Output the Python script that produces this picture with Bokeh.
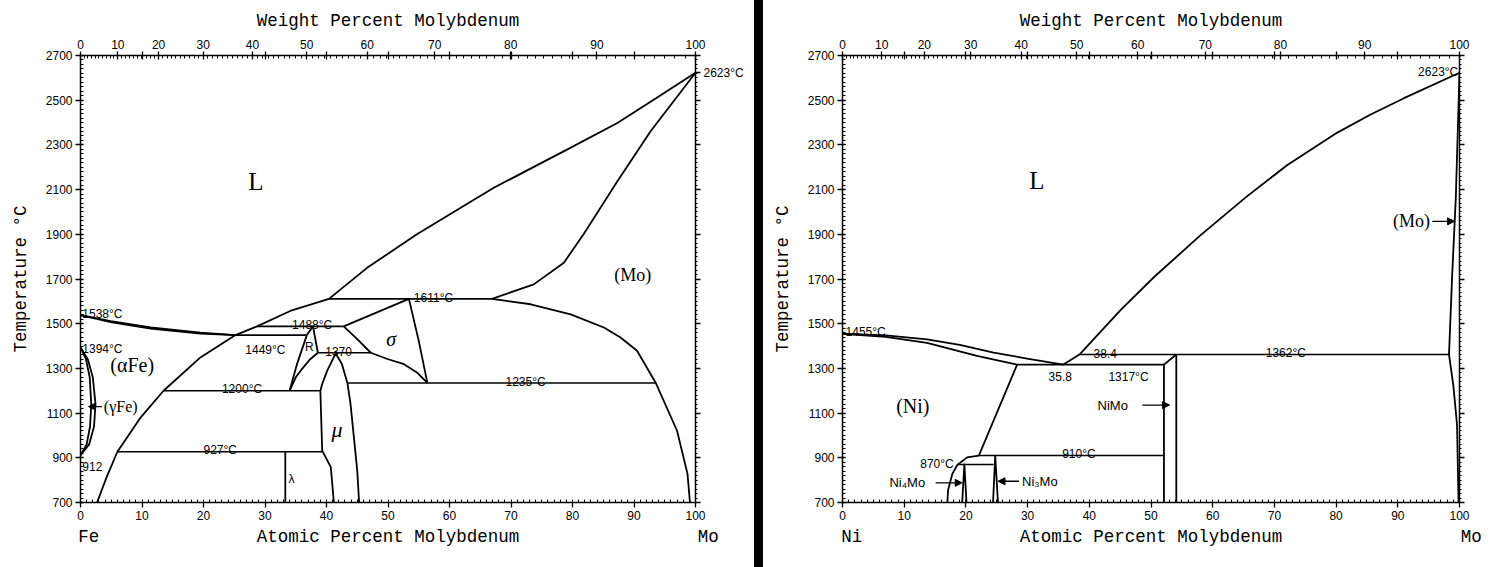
from bokeh.plotting import figure
from bokeh.models import (Range1d, LinearAxis, FixedTicker, Label, Arrow,
                          NormalHead, Spacer)
from bokeh.layouts import row
from bokeh.embed import file_html
from bokeh.resources import INLINE

# ---------------- axis data ----------------
M_FE, M_NI, M_MO = 55.845, 58.693, 95.95
temp_ticks = [700, 900, 1100, 1300, 1500, 1700, 1900, 2100, 2300, 2500, 2700]
at_ticks = [0, 10, 20, 30, 40, 50, 60, 70, 80, 90, 100]
wt_labels = [0, 10, 20, 30, 40, 50, 60, 70, 80, 90, 100]
mo_melting = 2623

# ---------------- Fe-Mo boundaries (at.% Mo, deg C) ----------------
femo_liq_fe_x = [0, 4.9, 11.4, 19.5, 25.2]
femo_liq_fe_t = [1538, 1512, 1483, 1460, 1449]
femo_sol_fe_x = [0, 4.9, 11.4, 19.5, 25.2]
femo_sol_fe_t = [1538, 1507, 1478, 1456, 1449]
femo_gamma_out_x = [0, 1.2, 2.0, 2.44, 2.2, 1.4, 0]
femo_gamma_out_t = [1394, 1340, 1260, 1140, 1040, 960, 912]
femo_gamma_in_x = [0, 0.9, 1.5, 1.75, 1.55, 1.0, 0]
femo_gamma_in_t = [1394, 1340, 1260, 1140, 1040, 960, 912]
femo_bcc_left_x = [2.7, 4.2, 6.0, 9.8, 13.5, 19.5, 25.2, 28.7, 34.1, 40.4]
femo_bcc_left_t = [700, 810, 927, 1081, 1200, 1349, 1449, 1488, 1557, 1611]
femo_bcc_right_x = [66.9, 73.2, 79.7, 85.1, 87.8, 90.5, 93.5, 97.0, 98.7, 99.1]
femo_bcc_right_t = [1611, 1587, 1542, 1483, 1438, 1379, 1237, 1021, 828, 700]
femo_liq_mo_x = [40.4, 46.6, 54.7, 67.2, 79.1, 87.3, 93.2, 100]
femo_liq_mo_t = [1611, 1750, 1900, 2108, 2279, 2398, 2502, 2623]
femo_sol_mo_x = [66.9, 73.7, 78.6, 81.8, 87.3, 92.7, 100]
femo_sol_mo_t = [1611, 1676, 1773, 1900, 2137, 2361, 2623]
femo_r_left_x = [37.8, 36.8, 35.2, 34.0]
femo_r_left_t = [1488, 1449, 1319, 1200]
femo_r_right_x = [37.8, 38.6]
femo_r_right_t = [1488, 1370]
femo_r_low_x = [34.0, 35.0, 36.0, 37.3, 38.6]
femo_r_low_t = [1200, 1260, 1297, 1340, 1370]
femo_bccr_x = [42.8, 45.0, 47.2]
femo_bccr_t = [1488, 1431, 1370]
femo_sig_ul_x = [42.8, 53.4]
femo_sig_ul_t = [1488, 1611]
femo_sig_r_x = [53.4, 55.0, 56.4]
femo_sig_r_t = [1611, 1423, 1235]
femo_sig_ll_x = [47.2, 49.9, 52.6, 54.7, 56.4]
femo_sig_ll_t = [1370, 1342, 1319, 1282, 1235]
femo_mu_left_x = [41.5, 40.1, 39.3, 39.0, 39.3, 40.7, 41.2]
femo_mu_left_t = [1367, 1289, 1230, 1200, 932, 858, 700]
femo_mu_right_x = [41.5, 42.5, 43.4, 43.9, 45.0, 45.3]
femo_mu_right_t = [1367, 1320, 1235, 1142, 843, 700]
femo_lambda_x = [33.3, 33.3]
femo_lambda_t = [927, 700]
femo_iso_t = [1611, 1488, 1449, 1370, 1235, 1200, 927]
femo_iso_x0 = [40.4, 28.7, 25.2, 38.6, 43.4, 13.5, 6.0]
femo_iso_x1 = [66.9, 42.8, 36.7, 47.2, 93.5, 39.0, 39.3]

# ---------------- Ni-Mo boundaries ----------------
nimo_liq_ni_x = [0, 7, 13.7, 19, 24.5, 29.9, 35.8]
nimo_liq_ni_t = [1455, 1448, 1430, 1405, 1371, 1344, 1317]
nimo_sol_ni_x = [0, 7, 13.7, 21.8, 28.3]
nimo_sol_ni_t = [1455, 1441, 1414, 1356, 1317]
nimo_solv_x = [28.3, 22.1, 20.2, 18.6, 17.8, 17.1, 17.0]
nimo_solv_t = [1317, 910, 902, 868, 828, 754, 700]
nimo_liq_mo_x = [35.8, 38.4, 45.1, 50.5, 58.0, 65.3, 72.1, 80.2, 85.6, 91.0, 100]
nimo_liq_mo_t = [1317, 1362, 1562, 1709, 1895, 2064, 2210, 2355, 2436, 2509, 2623]
nimo_mo_x = [100, 99.4, 98.8, 98.3, 99.0, 99.6, 99.85]
nimo_mo_t = [2623, 2061, 1709, 1362, 1224, 1048, 700]
nimo_nimo_l_x = [52.1, 52.1]
nimo_nimo_l_t = [1317, 700]
nimo_nimo_r_x = [54.1, 54.1]
nimo_nimo_r_t = [1362, 700]
nimo_nimo_top_x = [52.1, 54.1]
nimo_nimo_top_t = [1317, 1362]
nimo_ni4mo_x = [19.4, 19.75, 20.1]
nimo_ni4mo_t = [700, 870, 700]
nimo_ni3mo_x = [24.4, 24.75, 25.2]
nimo_ni3mo_t = [700, 910, 700]
nimo_iso_t = [1317, 1362, 910, 870]
nimo_iso_x0 = [28.3, 38.4, 22.1, 18.6]
nimo_iso_x1 = [52.1, 98.3, 52.1, 24.5]

NUM = ("Liberation Sans", "12px", "normal")
SER = ("Liberation Serif", "20px", "normal")

femo_texts = [
    (28.5, 2138, "L", ("Liberation Serif", "25px", "normal"), "center", "middle"),
    (89.8, 1720, "(Mo)", ("Liberation Serif", "18px", "normal"), "center", "middle"),
    (8.4, 1314, "(\u03b1Fe)", SER, "center", "middle"),
    (3.8, 1129, "(\u03b3Fe)", ("Liberation Serif", "16px", "normal"), "left", "middle"),
    (50.5, 1431, "\u03c3", ("Liberation Serif", "20px", "italic"), "center", "middle"),
    (41.7, 1028, "\u03bc", ("Liberation Serif", "22px", "italic"), "center", "middle"),
    (34.3, 803, "\u03bb", ("Liberation Sans", "12px", "normal"), "center", "middle"),
    (37.2, 1394, "R", ("Liberation Sans", "12px", "normal"), "center", "middle"),
    (0.3, 1543, "1538\u00b0C", NUM, "left", "alphabetic"),
    (0.3, 1387, "1394\u00b0C", NUM, "left", "alphabetic"),
    (0.3, 861, "912", NUM, "left", "alphabetic"),
    (26.8, 1383, "1449\u00b0C", NUM, "left", "alphabetic"),
    (34.4, 1492, "1488\u00b0C", NUM, "left", "alphabetic"),
    (39.8, 1375, "1370", NUM, "left", "alphabetic"),
    (54.2, 1616, "1611\u00b0C", NUM, "left", "alphabetic"),
    (23.0, 1206, "1200\u00b0C", NUM, "left", "alphabetic"),
    (20.0, 933, "927\u00b0C", NUM, "left", "alphabetic"),
    (69.1, 1241, "1235\u00b0C", NUM, "left", "alphabetic"),
]
femo_arrows = [(3.5, 1129, 1.3, 1129)]

nimo_texts = [
    (31.5, 2142, "L", ("Liberation Serif", "25px", "normal"), "center", "middle"),
    (11.4, 1132, "(Ni)", ("Liberation Serif", "20px", "normal"), "center", "middle"),
    (95.2, 1958, "(Mo)", ("Liberation Serif", "18px", "normal"), "right", "middle"),
    (43.8, 1136, "NiMo", ("Liberation Sans", "13px", "normal"), "center", "middle"),
    (10.5, 788, "Ni\u2084Mo", ("Liberation Sans", "13px", "normal"), "center", "middle"),
    (29.1, 795, "Ni\u2083Mo", ("Liberation Sans", "13px", "normal"), "left", "middle"),
    (0.5, 1461, "1455\u00b0C", NUM, "left", "alphabetic"),
    (33.4, 1262, "35.8", NUM, "left", "alphabetic"),
    (40.7, 1367, "38.4", NUM, "left", "alphabetic"),
    (43.1, 1262, "1317\u00b0C", NUM, "left", "alphabetic"),
    (68.6, 1368, "1362\u00b0C", NUM, "left", "alphabetic"),
    (35.6, 916, "910\u00b0C", NUM, "left", "alphabetic"),
    (12.6, 874, "870\u00b0C", NUM, "left", "alphabetic"),
    (99.8, 2625, "2623\u00b0C", NUM, "right", "alphabetic"),
]
nimo_arrows = [(15.1, 788, 19.4, 788), (28.6, 795, 25.2, 795),
               (48.6, 1136, 53.0, 1136), (95.6, 1958, 99.2, 1958)]

NB = "\u00a0"
TITLE = "Atomic Percent Molybdenum"
femo_xlabel = NB * 2 + "Fe" + NB * 15 + TITLE + NB * 17 + "Mo"
nimo_xlabel = NB * 2 + "Ni" + NB * 15 + TITLE + NB * 17 + "Mo"


def wt_to_at(w, m_base):
    if w <= 0:
        return 0.0
    if w >= 100:
        return 100.0
    a = w / M_MO
    b = (100 - w) / m_base
    return 100.0 * a / (a + b)


def style_axis(ax, tin, tout, mtin, mtout):
    ax.axis_line_width = 1.5
    ax.major_tick_line_width = 1.3
    ax.minor_tick_line_width = 1
    ax.major_tick_in = tin
    ax.major_tick_out = tout
    ax.minor_tick_in = mtin
    ax.minor_tick_out = mtout
    ax.major_label_text_font = "Liberation Sans"
    ax.major_label_text_font_size = "12px"
    ax.major_label_text_color = "black"
    ax.axis_label_text_font = "Liberation Mono"
    ax.axis_label_text_font_size = "17.5px"
    ax.axis_label_text_font_style = "normal"
    ax.axis_label_text_color = "black"
    ax.major_label_standoff = 3


def build(width, bl, br, bt, bb, m_base, lines, isos, texts, arrows, xlabel, right_label):
    p = figure(width=width, height=567, x_range=Range1d(0, 100),
               y_range=Range1d(700, 2700), output_backend="svg",
               toolbar_location=None, min_border_left=bl, min_border_right=br,
               min_border_top=bt, min_border_bottom=bb)
    p.xgrid.visible = False
    p.ygrid.visible = False
    p.outline_line_color = None
    p.background_fill_color = "white"
    p.border_fill_color = "white"

    bx = p.xaxis[0]
    bx.ticker = FixedTicker(ticks=at_ticks, minor_ticks=list(range(0, 101)))
    bx.axis_label = xlabel
    style_axis(bx, 0, 5, 3, 0)
    bx.axis_label_standoff = 4

    ly = p.yaxis[0]
    ly.ticker = FixedTicker(ticks=temp_ticks, minor_ticks=list(range(700, 2701, 20)))
    ly.axis_label = "Temperature \u00b0C"
    style_axis(ly, 3, 5, 3, 0)
    ly.axis_label_standoff = 12

    r_ticks = list(temp_ticks)
    r_over = {float(t): "" for t in temp_ticks}
    if right_label:
        r_ticks.append(mo_melting)
        r_over[float(mo_melting)] = "%d\u00b0C" % mo_melting
    ry = LinearAxis(ticker=FixedTicker(ticks=r_ticks, minor_ticks=list(range(700, 2701, 20))),
                    major_label_overrides=r_over)
    style_axis(ry, 0, 5, 0, 2)
    p.add_layout(ry, "right")

    wpos = [round(wt_to_at(w, m_base), 6) for w in wt_labels]
    extra = [float(a) for a in at_ticks[1:-1]]
    minor_w = [round(wt_to_at(w, m_base), 6) for w in range(0, 101)]
    overrides = {pos: str(w) for pos, w in zip(wpos, wt_labels)}
    for a in extra:
        overrides[a] = ""
    tx = LinearAxis(ticker=FixedTicker(ticks=wpos + extra, minor_ticks=minor_w),
                    major_label_overrides=overrides)
    tx.axis_label = "Weight Percent Molybdenum"
    style_axis(tx, 4, 4, 3, 0)
    tx.axis_label_standoff = 6
    p.add_layout(tx, "above")

    for xs, ts in lines:
        p.line(xs, ts, line_color="black", line_width=1.8, line_join="round")
    t_list, x0s, x1s = isos
    p.multi_line([[a, b] for a, b in zip(x0s, x1s)], [[t, t] for t in t_list],
                 line_color="black", line_width=1.6)

    for x, t, txt, (font, size, style), align, base in texts:
        p.add_layout(Label(x=x, y=t, text=txt, text_font=font, text_font_size=size,
                           text_font_style=style, text_align=align,
                           text_baseline=base, text_color="black"))
    for xs, ys, xe, ye in arrows:
        p.add_layout(Arrow(end=NormalHead(size=7, fill_color="black", line_color="black"),
                           x_start=xs, y_start=ys, x_end=xe, y_end=ye,
                           line_color="black", line_width=1.3))
    return p


femo_lines = [
    (femo_liq_fe_x, femo_liq_fe_t), (femo_sol_fe_x, femo_sol_fe_t),
    (femo_gamma_out_x, femo_gamma_out_t), (femo_gamma_in_x, femo_gamma_in_t),
    (femo_bcc_left_x, femo_bcc_left_t), (femo_bcc_right_x, femo_bcc_right_t),
    (femo_liq_mo_x, femo_liq_mo_t), (femo_sol_mo_x, femo_sol_mo_t),
    (femo_r_left_x, femo_r_left_t), (femo_r_right_x, femo_r_right_t),
    (femo_r_low_x, femo_r_low_t), (femo_bccr_x, femo_bccr_t),
    (femo_sig_ul_x, femo_sig_ul_t), (femo_sig_r_x, femo_sig_r_t),
    (femo_sig_ll_x, femo_sig_ll_t), (femo_mu_left_x, femo_mu_left_t),
    (femo_mu_right_x, femo_mu_right_t), (femo_lambda_x, femo_lambda_t),
]
nimo_lines = [
    (nimo_liq_ni_x, nimo_liq_ni_t), (nimo_sol_ni_x, nimo_sol_ni_t),
    (nimo_solv_x, nimo_solv_t), (nimo_liq_mo_x, nimo_liq_mo_t),
    (nimo_mo_x, nimo_mo_t), (nimo_nimo_l_x, nimo_nimo_l_t),
    (nimo_nimo_r_x, nimo_nimo_r_t), (nimo_nimo_top_x, nimo_nimo_top_t),
    (nimo_ni4mo_x, nimo_ni4mo_t), (nimo_ni3mo_x, nimo_ni3mo_t),
]

p1 = build(754, 80, 59, 54, 65, M_FE, femo_lines,
           (femo_iso_t, femo_iso_x0, femo_iso_x1), femo_texts, femo_arrows,
           femo_xlabel, True)
p2 = build(737, 79, 41, 55, 58, M_NI, nimo_lines,
           (nimo_iso_t, nimo_iso_x0, nimo_iso_x1), nimo_texts, nimo_arrows,
           nimo_xlabel, False)

bar = Spacer(width=9, height=567, styles={"background-color": "black"})
layout = row(p1, bar, p2)

open("out.html", "w").write(file_html(layout, INLINE))
